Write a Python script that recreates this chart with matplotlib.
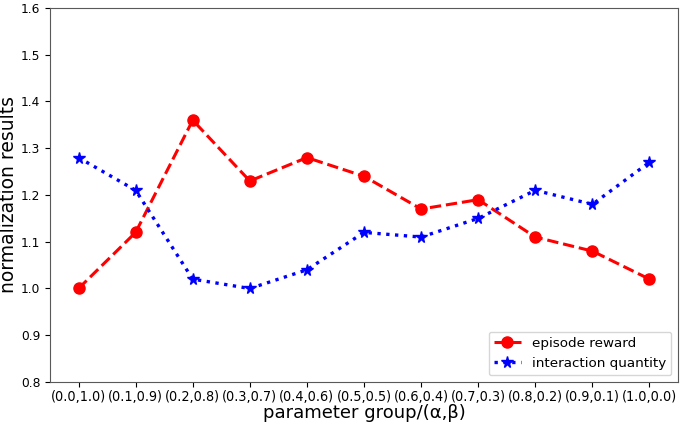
import matplotlib
matplotlib.use("Agg")
import matplotlib.pyplot as plt

groups = ["(0.0,1.0)", "(0.1,0.9)", "(0.2,0.8)", "(0.3,0.7)", "(0.4,0.6)", "(0.5,0.5)",
          "(0.6,0.4)", "(0.7,0.3)", "(0.8,0.2)", "(0.9,0.1)", "(1.0,0.0)"]
episode_reward = [1.00, 1.12, 1.36, 1.23, 1.28, 1.24, 1.17, 1.19, 1.11, 1.08, 1.02]
interaction_quantity = [1.28, 1.21, 1.02, 1.00, 1.04, 1.12, 1.11, 1.15, 1.21, 1.18, 1.27]

fig = plt.figure(figsize=(6.85, 4.25), dpi=100)
ax = fig.add_axes([0.073, 0.1012, 0.9168, 0.88])

x = range(len(groups))
ax.plot(x, episode_reward, 'o--', color='red', lw=2.2, markersize=8, label='episode reward')
ax.plot(x, interaction_quantity, '*:', color='blue', lw=2.4, markersize=8.5, label='interaction quantity')

ax.set_ylim(0.8, 1.6)
ax.set_xticks(list(x))
ax.set_xticklabels(groups, fontsize=10.3, fontstretch='condensed')
ax.tick_params(axis='y', labelsize=8.8)
ax.tick_params(axis='x', pad=2.5)
for s in ax.spines.values():
    s.set_color('0.35')
ax.set_xlabel("parameter group/(α,β)", fontsize=13, labelpad=0)
ax.set_ylabel("normalization results", fontsize=13.5, labelpad=2)
ax.legend(loc='lower right', fontsize=9.7)

fig.savefig("out.png", dpi=100)
